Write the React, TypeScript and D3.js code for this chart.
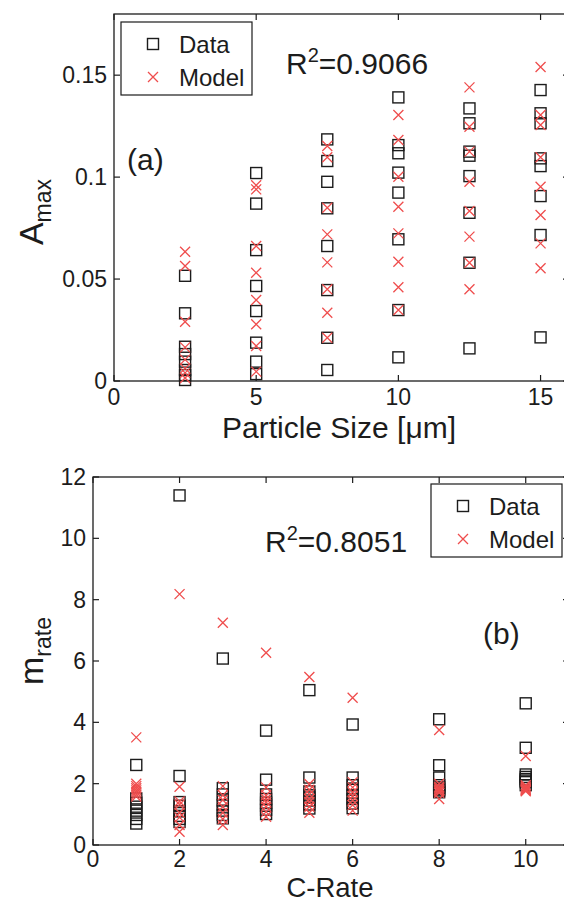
import React from "react";
import * as d3 from "d3";

// Panel (a): maximum amplitude vs particle size
const particleSizes = [2.5, 5, 7.5, 10, 12.5, 15];
const amaxData = [
  [0.0516, 0.0332, 0.0168, 0.0132, 0.0095, 0.0054, 0.0029, 0.0005],
  [0.102, 0.087, 0.0642, 0.0466, 0.0343, 0.0188, 0.0095, 0.0034],
  [0.1185, 0.1079, 0.0977, 0.0847, 0.0662, 0.0446, 0.0212, 0.0054],
  [0.1391, 0.1157, 0.1117, 0.1022, 0.0924, 0.0695, 0.0348, 0.0116],
  [0.1337, 0.1264, 0.1125, 0.1105, 0.1005, 0.0825, 0.058, 0.016],
  [0.1427, 0.1313, 0.1264, 0.1092, 0.1054, 0.0907, 0.0716, 0.0214],
];
const amaxModel = [
  [0.0634, 0.0564, 0.0291, 0.0165, 0.0105, 0.0062, 0.004, 0.0015],
  [0.096, 0.094, 0.0662, 0.0531, 0.0397, 0.0278, 0.0172, 0.0046],
  [0.1153, 0.1097, 0.085, 0.0719, 0.0582, 0.045, 0.0335, 0.0212],
  [0.1305, 0.1182, 0.1002, 0.0855, 0.0724, 0.0585, 0.046, 0.0348],
  [0.144, 0.1247, 0.1125, 0.0977, 0.0834, 0.0708, 0.058, 0.045],
  [0.154, 0.1305, 0.1256, 0.1097, 0.0953, 0.0814, 0.0675, 0.0553],
];
const amaxXTicks = [0, 5, 10, 15];
const amaxYTicks = [0, 0.05, 0.1, 0.15];
const amaxYTickLabels = ["0", "0.05", "0.1", "0.15"];

// Panel (b): rate exponent vs C-rate
const cRates = [1, 2, 3, 4, 5, 6, 8, 10];
const mrateData = [
  [2.61, 1.52, 1.38, 1.25, 1.12, 0.98, 0.85, 0.7],
  [11.4, 2.25, 1.4, 1.28, 1.1, 0.95, 0.85, 0.75],
  [6.08, 1.85, 1.65, 1.45, 1.3, 1.12, 0.98, 0.87],
  [3.73, 2.13, 1.65, 1.5, 1.38, 1.28, 1.15, 1.01],
  [5.05, 2.2, 1.75, 1.62, 1.55, 1.45, 1.32, 1.19],
  [3.93, 2.2, 1.95, 1.8, 1.62, 1.5, 1.35, 1.2],
  [4.1, 2.6, 2.2, 1.95, 1.88, 1.82, 1.78, 1.72],
  [4.62, 3.17, 2.3, 2.22, 2.15, 2.1, 2.05, 1.95],
];
const mrateModel = [
  [3.51, 2.0, 1.92, 1.85, 1.78, 1.72, 1.65, 1.58],
  [8.18, 1.9, 1.42, 1.32, 1.05, 0.9, 0.65, 0.43],
  [7.25, 1.92, 1.62, 1.47, 1.25, 1.05, 0.85, 0.65],
  [6.27, 1.88, 1.62, 1.5, 1.4, 1.25, 1.08, 0.92],
  [5.48, 1.99, 1.8, 1.65, 1.5, 1.4, 1.25, 1.05],
  [4.8, 2.05, 1.88, 1.72, 1.6, 1.45, 1.3, 1.12],
  [3.75, 2.0, 1.9, 1.85, 1.8, 1.75, 1.7, 1.5],
  [2.9, 1.95, 1.9, 1.85, 1.82, 1.8, 1.78, 1.75],
];
const mrateXTicks = [0, 2, 4, 6, 8, 10];
const mrateYTicks = [0, 2, 4, 6, 8, 10, 12];

const FONT = "'Liberation Sans', Arial, Helvetica, sans-serif";
const INK = "#1c1c1c";
const RED = "#ef4d4d";
const SQ = 11;
const CR = 5;
const TICK = 6;

type Scale = d3.ScaleLinear<number, number>;

function Square({ cx, cy }: { cx: number; cy: number }) {
  return (
    <rect x={cx - SQ / 2} y={cy - SQ / 2} width={SQ} height={SQ}
      fill="none" stroke={INK} strokeWidth={1.4} />
  );
}

function Cross({ cx, cy }: { cx: number; cy: number }) {
  return (
    <path d={`M${cx - CR},${cy - CR}L${cx + CR},${cy + CR}M${cx - CR},${cy + CR}L${cx + CR},${cy - CR}`}
      stroke={RED} strokeWidth={1.3} fill="none" />
  );
}

function Frame({ x, y, xTicks, yTicks, yLabels, tickFont, labelGap }: {
  x: Scale; y: Scale; xTicks: number[]; yTicks: number[]; yLabels: string[]; tickFont: number; labelGap: number;
}) {
  const [x0, x1] = x.range();
  const [y0, y1] = y.range();
  return (
    <g>
      <rect x={x0} y={y1} width={x1 - x0} height={y0 - y1} fill="none" stroke={INK} strokeWidth={1.3} />
      {xTicks.map((t) => (
        <g key={"x" + t}>
          <line x1={x(t)} x2={x(t)} y1={y0} y2={y0 - TICK} stroke={INK} strokeWidth={1.2} />
          <line x1={x(t)} x2={x(t)} y1={y1} y2={y1 + TICK} stroke={INK} strokeWidth={1.2} />
          <text x={x(t)} y={y0 + labelGap} textAnchor="middle" fontSize={tickFont} fontFamily={FONT} fill={INK}>{t}</text>
        </g>
      ))}
      {yTicks.map((t, i) => (
        <g key={"y" + t}>
          <line x1={x0} x2={x0 + TICK} y1={y(t)} y2={y(t)} stroke={INK} strokeWidth={1.2} />
          <line x1={x1} x2={x1 - TICK} y1={y(t)} y2={y(t)} stroke={INK} strokeWidth={1.2} />
          <text x={x0 - 7} y={y(t) + 8} textAnchor="end" fontSize={tickFont} fontFamily={FONT} fill={INK}>{yLabels[i]}</text>
        </g>
      ))}
    </g>
  );
}

function Legend({ x, y }: { x: number; y: number }) {
  return (
    <g>
      <rect x={x} y={y} width={131} height={73} fill="#fff" stroke={INK} strokeWidth={1.2} />
      <Square cx={x + 32} cy={y + 22} />
      <text x={x + 58} y={y + 31} fontSize={24} fontFamily={FONT} fill={INK}>Data</text>
      <Cross cx={x + 32} cy={y + 55} />
      <text x={x + 58} y={y + 64} fontSize={24} fontFamily={FONT} fill={INK}>Model</text>
    </g>
  );
}

function Points({ xs, series, x, y }: { xs: number[]; series: number[][][]; x: Scale; y: Scale }) {
  const [data, model] = series;
  return (
    <g>
      {xs.map((xv, i) => data[i].map((v, j) => <Square key={`d${i}-${j}`} cx={x(xv)} cy={y(v)} />))}
      {xs.map((xv, i) => model[i].map((v, j) => <Cross key={`m${i}-${j}`} cx={x(xv)} cy={y(v)} />))}
    </g>
  );
}

export default function App() {
  const xA = d3.scaleLinear().domain([0, 16]).range([114, 569]);
  const yA = d3.scaleLinear().domain([0, 0.18]).range([381, 14]);
  const xB = d3.scaleLinear().domain([0, 11]).range([93, 569]);
  const yB = d3.scaleLinear().domain([0, 12]).range([845, 477]);

  return (
    <div style={{ position: "fixed", left: 0, top: 0 }}>
      <svg width={564} height={903} style={{ display: "block", background: "#fff" }}>
        {/* (a) */}
        <Frame x={xA} y={yA} xTicks={amaxXTicks} yTicks={amaxYTicks} yLabels={amaxYTickLabels} tickFont={23} labelGap={24} />
        <Points xs={particleSizes} series={[amaxData, amaxModel]} x={xA} y={yA} />
        <Legend x={121} y={22} />
        <text x={286} y={74} fontSize={30} fontFamily={FONT} fill={INK}>
          R<tspan fontSize={20} dy={-12}>2</tspan><tspan dy={12}>=0.9066</tspan>
        </text>
        <text x={127} y={170} fontSize={30} fontFamily={FONT} fill={INK}>(a)</text>
        <text x={339} y={438} textAnchor="middle" fontSize={30} fontFamily={FONT} fill={INK}>Particle Size [μm]</text>
        <text transform="translate(43,212) rotate(-90)" textAnchor="middle" fontSize={34} fontFamily={FONT} fill={INK}>
          A<tspan fontSize={23} dy={8}>max</tspan>
        </text>

        {/* (b) */}
        <Frame x={xB} y={yB} xTicks={mrateXTicks} yTicks={mrateYTicks} yLabels={mrateYTicks.map(String)} tickFont={23} labelGap={22} />
        <Points xs={cRates} series={[mrateData, mrateModel]} x={xB} y={yB} />
        <Legend x={431} y={484} />
        <text x={265} y={552} fontSize={30} fontFamily={FONT} fill={INK}>
          R<tspan fontSize={20} dy={-12}>2</tspan><tspan dy={12}>=0.8051</tspan>
        </text>
        <text x={483} y={644} fontSize={30} fontFamily={FONT} fill={INK}>(b)</text>
        <text x={330} y={897} textAnchor="middle" fontSize={27.5} fontFamily={FONT} fill={INK}>C-Rate</text>
        <text transform="translate(43,651) rotate(-90)" textAnchor="middle" fontSize={34} fontFamily={FONT} fill={INK}>
          m<tspan fontSize={23} dy={8}>rate</tspan>
        </text>
      </svg>
    </div>
  );
}
